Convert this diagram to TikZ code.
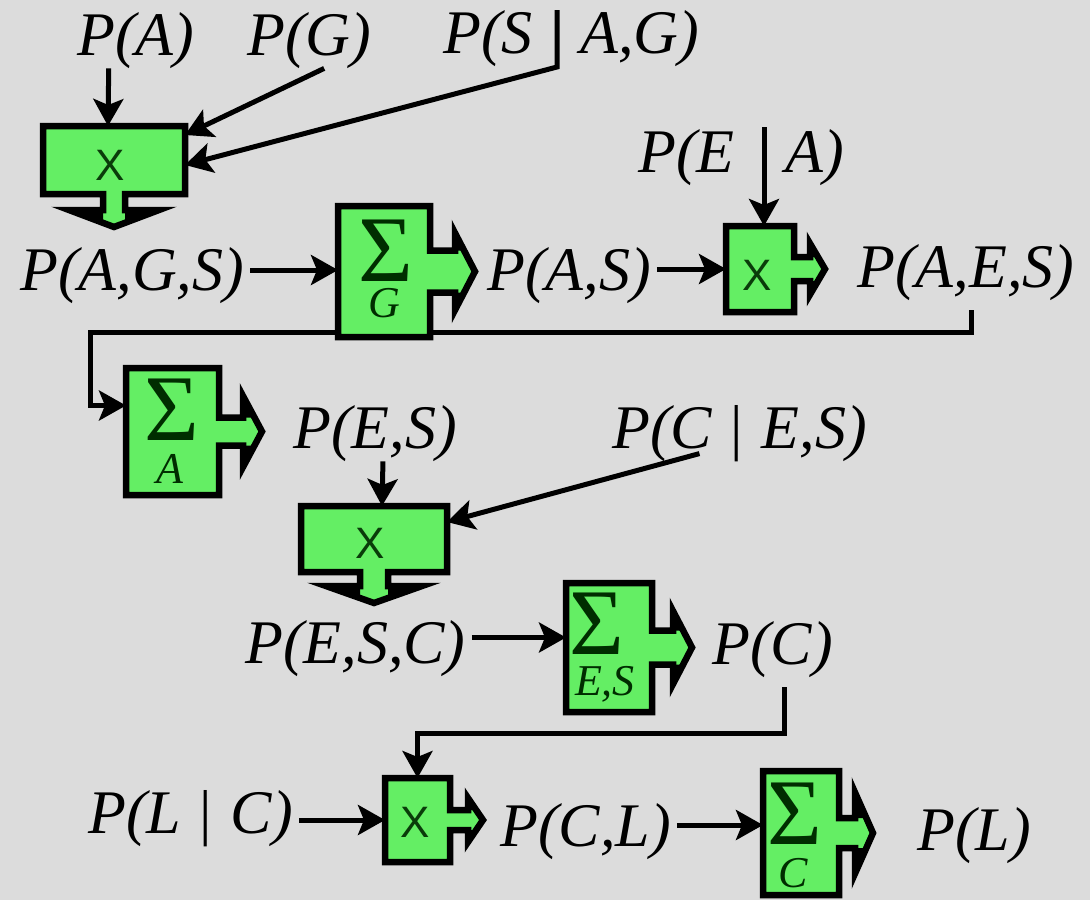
\documentclass[tikz,border=0pt]{standalone}
\usepackage{fontspec}
\setmainfont{Liberation Serif}
\newfontfamily\boxsans{Liberation Sans}
\usetikzlibrary{arrows.meta,calc}

\definecolor{paper}{RGB}{220,220,220}
\definecolor{boxgreen}{RGB}{100,238,100}
\definecolor{markgreen}{RGB}{10,60,10}
\definecolor{sigmagreen}{RGB}{0,45,0}

% box with a block arrow leaving its right side; the head's wings are solid black
% #1 box node, #2 stem length, #3 head length, #4 stem half height, #5 head half height
\newcommand\rightbox[5]{%
  \draw[boxshape] let \p1=(#1.north west), \p2=(#1.south east), \p3=(#1.east) in
    (\x1,\y1) -- (\x2,\y1) -- (\x2,\y3+#4pt) -- (\x2+#2pt,\y3+#4pt) -- (\x2+#2pt,\y3+#5pt)
    -- (\x2+#2pt+#3pt,\y3) -- (\x2+#2pt,\y3-#5pt) -- (\x2+#2pt,\y3-#4pt) -- (\x2,\y3-#4pt)
    -- (\x2,\y2) -- (\x1,\y2) -- cycle;
  \fill[black] let \p2=(#1.south east), \p3=(#1.east), \n1={#2pt+#3pt*(1-#4/#5)} in
    (\x2+#2pt,\y3+#4pt) -- (\x2+#2pt,\y3+#5pt) -- (\x2+\n1,\y3+#4pt) -- cycle
    (\x2+#2pt,\y3-#4pt) -- (\x2+#2pt,\y3-#5pt) -- (\x2+\n1,\y3-#4pt) -- cycle;}
% box with a block arrow leaving its bottom side
\newcommand\downbox[5]{%
  \draw[boxshape] let \p1=(#1.north west), \p2=(#1.south east), \p3=(#1.south) in
    (\x1,\y1) -- (\x2,\y1) -- (\x2,\y2) -- (\x3+#4pt,\y2) -- (\x3+#4pt,\y2-#2pt) -- (\x3+#5pt,\y2-#2pt)
    -- (\x3,\y2-#2pt-#3pt) -- (\x3-#5pt,\y2-#2pt) -- (\x3-#4pt,\y2-#2pt) -- (\x3-#4pt,\y2)
    -- (\x1,\y2) -- cycle;
  \fill[black] let \p2=(#1.south east), \p3=(#1.south), \n1={#2pt+#3pt*(1-#4/#5)} in
    (\x3+#4pt,\y2-#2pt) -- (\x3+#5pt,\y2-#2pt) -- (\x3+#4pt,\y2-\n1) -- cycle
    (\x3-#4pt,\y2-#2pt) -- (\x3-#5pt,\y2-#2pt) -- (\x3-#4pt,\y2-\n1) -- cycle;}
% horizontal arrow from a formula to a box side
\newcommand\hconn[2]{%
  \draw[conn] let \p1=(#2), \p2=(#1.east) in (\x2+6pt,\y1) -- (\p1);}

\begin{document}
\begin{tikzpicture}[x=1pt,y=-1pt,
  formula/.style={inner sep=0pt, anchor=base west, font=\fontsize{62}{70}\selectfont\itshape},
  boxslot/.style 2 args={minimum width=#1pt, minimum height=#2pt, inner sep=0pt, outer sep=0pt},
  boxshape/.style={fill=boxgreen, draw=black, line width=6.5pt, line join=miter},
  opmark/.style={inner sep=0pt, font=\boxsans\fontsize{44}{48}\selectfont, text=markgreen},
  sig/.style={inner sep=0pt, font=\fontsize{94}{100}\selectfont, text=sigmagreen},
  sub/.style={inner sep=0pt, anchor=base, font=\fontsize{44}{48}\selectfont\itshape, text=sigmagreen},
  conn/.style={line width=5pt, -{Stealth[length=27pt,width=30pt,inset=6pt]}},
]
\fill[paper] (0,0) rectangle (1090,900);
\useasboundingbox (0,0) rectangle (1090,900);

% formulas
\node[formula] (pa) at (77,55) {P(A)};
\node[formula] (pg) at (247,55) {P(G)};
\node[formula] (psag-l) at (443,53) {P(S};
\node[formula] (psag-r) at (580,53) {A,G)};
\coordinate (sagtop) at (557,10);
\coordinate (sagbot) at (557,67);
\node[formula] (pea-l) at (638,172) {P(E};
\node[formula] (pea-r) at (785,172) {A)};
\coordinate (eatop) at (764,127);
\node[formula] (pags) at (20,290) {P(A,G,S)};
\node[formula] (pas) at (487,290) {P(A,S)};
\node[formula] (paes) at (857,287) {P(A,E,S)};
\node[formula] (pes) at (293,448) {P(E,S)};
\node[formula] (pces) at (612,448) {P(C\hspace{0.3em}{\upshape|}\hspace{0.3em}E,S)};
\node[formula] (pesc) at (245,663) {P(E,S,C)};
\node[formula] (pc) at (712,664) {P(C)};
\node[formula] (plc) at (88,833) {P(L\hspace{0.3em}{\upshape|}\hspace{0.3em}C)};
\node[formula] (pcl) at (500,846) {P(C,L)};
\node[formula] (pl) at (917,850) {P(L)};

% operator boxes (anchors only, outlines drawn below)
\node[boxslot={142}{68}]  (b1) at (114,160) {};
\node[boxslot={92}{131}]  (b2) at (384,271.5) {};
\node[boxslot={68}{86}]   (b3) at (760,269) {};
\node[boxslot={93}{127}]  (b4) at (172.5,431.5) {};
\node[boxslot={146}{66}]  (b5) at (374,539) {};
\node[boxslot={86}{129}]  (b6) at (609,647.5) {};
\node[boxslot={65}{84}]   (b7) at (417.5,820) {};
\node[boxslot={76}{124}]  (b8) at (801,833) {};

% long routed connectors, passing behind the boxes
\draw[conn] ([xshift=6pt,yshift=-10pt]paes.south) -- ++(0,22)
  -| ([xshift=-36pt,yshift=26pt]b4.west) -- ([yshift=26pt]b4.west);
\draw[conn] ([xshift=12pt,yshift=-10pt]pc.south) -- ++(0,46) -| (b7.north);

% box outlines
\downbox{b1}{16}{17}{11}{45}
\rightbox{b2}{25}{20}{21}{38.5}
\rightbox{b3}{16}{15}{12}{25.5}
\rightbox{b4}{24}{19}{14}{35.5}
\downbox{b5}{14}{17}{14}{48}
\rightbox{b6}{21}{19}{17}{36.5}
\rightbox{b7}{18}{15}{10}{22}
\rightbox{b8}{16}{18}{15}{40.5}

% box labels
\node[opmark] (x1) at (110,165) {X};
\node[opmark] (x3) at (757,275) {X};
\node[opmark] (x5) at (370,543) {X};
\node[opmark] (x7) at (415,822) {X};
\node[sig] (s2) at (386,251) {Σ};
\node[sub] (g2) at (384,317) {G};
\node[sig] (s4) at (172,410) {Σ};
\node[sub] (a4) at (170,483) {A};
\node[sig] (s6) at (597,624) {Σ};
\node[sub] (es6) at (605,695) {E,S};
\node[sig] (s8) at (795,814) {Σ};
\node[sub] (c8) at (793,887) {C};

% short connectors
\draw[conn] ([xshift=-27pt]pa.south) -- ([xshift=-6pt]b1.north);
\draw[conn] ([xshift=15pt]pg.south) -- ([yshift=25pt]b1.east);
\draw[conn] (sagtop) -- (sagbot) -- ([yshift=-5pt]b1.east);
\draw[conn] (eatop) -- (eatop |- b3.north);
\hconn{pags}{[yshift=1.5pt]b2.west}
\hconn{pas}{b3.west}
\draw[conn] ([xshift=8pt]pes.south) -- ([xshift=8pt]b5.north);
\draw[conn] ([xshift=-40pt,yshift=8pt]pces.south) -- ([yshift=17pt]b5.east);
\hconn{pesc}{[yshift=10pt]b6.west}
\hconn{plc}{b7.west}
\hconn{pcl}{[yshift=8pt]b8.west}
\end{tikzpicture}
\end{document}
